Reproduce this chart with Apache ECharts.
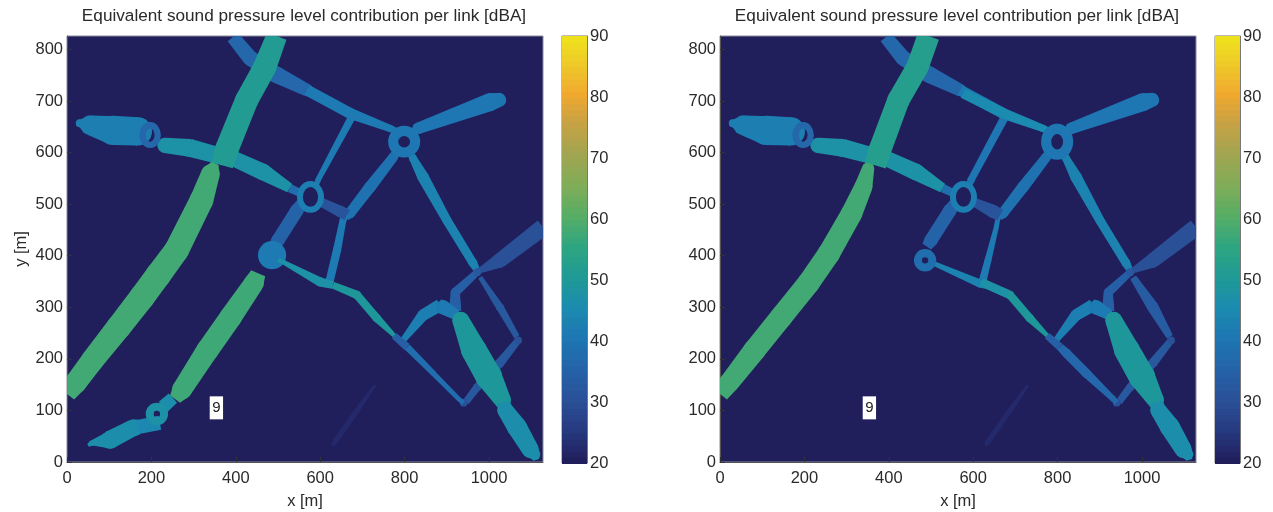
<!DOCTYPE html>
<html><head><meta charset="utf-8">
<style>html,body{margin:0;padding:0;background:#fff}#c{width:1273px;height:512px;filter:blur(0.45px)}</style>
<script src="https://cdn.jsdelivr.net/npm/echarts@6/dist/echarts.min.js"></script>
</head><body><div id="c"></div>
<script>
const titleText = 'Equivalent sound pressure level contribution per link [dBA]';
const xTicks = [0, 200, 400, 600, 800, 1000];
const yTicks = [0, 100, 200, 300, 400, 500, 600, 700, 800];
const barTicks = [20, 30, 40, 50, 60, 70, 80, 90];
const colormap = ['#211e5c','#263a80','#2a5098','#2563a8','#1e76b2','#1b8bb0','#1f9a96','#2ea581','#55ad66','#7fad58','#a0a552','#c4a245','#f0a82f','#eec928','#efe61c'];
const barLevels = [20,21,22,23,24,25,26,27,28,29,30,31,32,33,34,35,36,37,38,39,40,41,42,43,44,45,46,47,48,49,50,51,52,53,54,55,56,57,58,59,60,61,62,63,64,65,66,67,68,69,70,71,72,73,74,75,76,77,78,79,80,81,82,83,84,85,86,87,88,89];
const labelNine = [[354, 105, '9']];
const widthScale = 1.1;
const widthPad = 3;

// Each road: [level dBA, [x m, y m, road width m], ...]
const sharedRoads = [
  [22, [730,149,4],[683,95,9],[635,39,9],[628,32,2]],
  [42, [22,657,6],[30,657,14],[55,653,40],[109,643,60],[168,641,58],[178,640,50]],
  [47, [222,615,20],[232,614,30],[291,609,36],[355,595,33],[375,590,30]],
  [47, [380,593,28],[393,589,30],[465,562,33],[528,531,18]],
  [38, [528,531,16],[556,520,14]],
  [36, [393,824,26],[434,783,30],[498,750,33],[569,721,24],[576,714,12]],
  [41, [569,721,21],[671,676,21],[765,647,13],[785,640,10]],
  [40, [820,640,8],[832,647,22],[1003,698,36],[1024,702,28],[1034,702,12]],
  [39, [780,600,14],[773,591,18],[718,533,22],[671,483,20],[660,476,16]],
  [35, [556,502,20],[545,488,26],[500,430,26],[490,418,20]],
  [43, [812,600,10],[820,589,14],[844,552,22],[900,469,17],[962,386,16],[970,374,12]],
  [30, [975,370,8],[1026,391,29],[1128,455,34]],
  [34, [972,368,12],[920,329,17],[920,304,22],[922,292,20]],
  [42, [790,232,4],[796,236,10],[844,285,22],[884,304,24]],
  [41, [880,304,24],[891,300,28],[924,285,20]],
  [49, [630,343,12],[687,324,15],[734,279,15],[782,240,5]],
  [32, [945,116,12],[972,145,14],[1026,192,17],[1069,236,12]],
  [34, [775,245,12],[806,223,14]],
  [30, [940,115,14]],
  [30, [1069,236,14]],
  [32, [972,368,14]],
  [49, [925,285,16],[933,275,34],[964,217,52],[1000,165,54],[1032,120,34],[1034,114,22]],
  [46, [1034,116,24],[1039,100,32],[1066,68,40],[1098,24,34],[1108,15,22],[1112,4,10]]
];
const leftRoads = [
  [57.5, [0,132,36],[21,154,44],[60,197,46],[122,261,50],[178,320,52],[216,362,52],[260,411,50],[319,508,48],[340,559,38],[351,579,14]],
  [51, [368,575,44],[378,605,48],[426,702,47],[469,766,47],[497,826,42]],
  [41, [660,480,12],[654,469,12],[640,411,15],[623,353,15],[620,345,14]],
  [41, [675,669,14],[595,547,9],[590,535,8]],
  [31, [600,505,14],[607,502,17],[647,486,22],[664,479,22]],
  [41, [486,401,58]],
  [47, [500,392,7],[512,388,7],[600,349,17],[630,343,14]],
  [57, [453,366,30],[443,347,40],[388,281,45],[333,217,45],[272,140,40],[256,122,24]],
  [46, [228,107,26],[251,124,24]],
  [46, [50,32,4],[59,37,9],[102,43,36],[156,66,34],[170,68,30]],
  [44, [168,68,28],[220,76,28]],
  [38, [806,223,12],[868,172,9],[931,120,7],[940,115,7]],
  [32, [979,358,7],[1026,300,14],[1066,243,10]]
];
const rightRoads = [
  [57.5, [0,132,36],[22,154,40],[82,217,45],[146,282,45],[210,347,45],[258,404,45],[312,482,43],[340,534,36],[351,569,24],[355,581,8]],
  [52, [368,575,44],[379,605,46],[423,702,45],[468,766,45],[494,826,45]],
  [41, [660,480,8],[655,456,8],[635,391,12],[623,353,14]],
  [40, [675,669,15],[595,547,13],[590,535,10]],
  [31, [600,505,14],[607,502,17],[647,486,26],[664,479,24]],
  [43, [506,385,7],[616,346,15],[630,343,14]],
  [47, [619,349,15],[682,326,15]],
  [36, [806,223,14],[821,211,17],[868,172,17],[931,123,10],[940,115,8]],
  [33, [979,358,12],[1026,300,22],[1066,243,12]],
  [45, [576,715,19],[671,676,19],[765,647,12],[785,640,10]]
];
// Each ring: [level dBA, x m, y m, x radius m, y radius m, ring width m]
const sharedRings = [
  [36, 197, 634, 18, 19, 15],
  [42, 577, 514, 25, 25, 14]
];
const leftRings = [[40, 799, 621, 26, 21, 24], [47, 213, 93, 17, 14, 19]];
const rightRings = [[40, 799, 621, 26, 25, 24], [38, 486, 391, 17, 14, 19]];

const leftPanelRoads = sharedRoads.concat(leftRoads);
const rightPanelRoads = sharedRoads.concat(rightRoads);
const leftPanelRings = sharedRings.concat(leftRings);
const rightPanelRings = sharedRings.concat(rightRings);

const textColor = '#2a2a2a';
const fontFamily = '"Liberation Sans", Arial, sans-serif';
const tickFont = { color: textColor, fontFamily, fontSize: 16.5 };

function clipOf(params) {
  const c = params.coordSys;
  return { type: 'rect', shape: { x: c.x, y: c.y, width: c.width, height: c.height } };
}
function spanX(api, v) { return Math.abs(api.coord([v, 0])[0] - api.coord([0, 0])[0]); }
function spanY(api, v) { return Math.abs(api.coord([0, v])[1] - api.coord([0, 0])[1]); }
function roadRenderer(roads) {
  return function (params, api) {
    const road = roads[api.value(1)];
    const color = api.visual('color');
    const pts = road.slice(1).map(p => {
      const xy = api.coord([p[0], p[1]]);
      return { x: xy[0], y: xy[1], r: spanX(api, p[2] * widthScale + widthPad) / 2 };
    });
    const children = [];
    pts.forEach((p, i) => {
      if (pts.length === 1 || (i > 0 && i < pts.length - 1)) {
        children.push({ type: 'circle', shape: { cx: p.x, cy: p.y, r: p.r }, style: { fill: color } });
      }
    });
    for (let i = 0; i + 1 < pts.length; i++) {
      const a = pts[i], b = pts[i + 1];
      const dx = b.x - a.x, dy = b.y - a.y, l = Math.hypot(dx, dy) || 1;
      const nx = -dy / l, ny = dx / l;
      children.push({ type: 'polygon', shape: { points: [
        [a.x + nx * a.r, a.y + ny * a.r], [b.x + nx * b.r, b.y + ny * b.r],
        [b.x - nx * b.r, b.y - ny * b.r], [a.x - nx * a.r, a.y - ny * a.r]
      ] }, style: { fill: color } });
    }
    return { type: 'group', clipPath: clipOf(params), children };
  };
}
function ringRenderer(rings) {
  return function (params, api) {
    const r = rings[api.value(1)];
    const c = api.coord([r[1], r[2]]);
    return {
      type: 'ellipse',
      shape: { cx: c[0], cy: c[1], rx: spanX(api, r[3]), ry: spanY(api, r[4]) },
      style: { fill: 'none', stroke: api.visual('color'), lineWidth: spanX(api, r[5]) }
    };
  };
}
function barRenderer(params, api) {
  const p = api.coord([0, api.value(0) + 1]);
  const q = api.coord([1, api.value(0)]);
  return { type: 'rect', shape: { x: p[0], y: p[1], width: q[0] - p[0], height: q[1] - p[1] + 1 }, style: { fill: api.visual('color') } };
}

const panels = [
  { plotLeft: 67, barLeft: 562, roads: leftPanelRoads, rings: leftPanelRings, yName: 'y [m]' },
  { plotLeft: 720, barLeft: 1215, roads: rightPanelRoads, rings: rightPanelRings, yName: '' }
];
const grid = [], xAxis = [], yAxis = [], series = [], customIdx = [], title = [];
panels.forEach((p) => {
  const plot = grid.length;
  grid.push({ left: p.plotLeft, top: 36, width: 476, height: 426, outerBoundsMode: 'none', show: true, backgroundColor: colormap[0], borderColor: '#8a8a9a', borderWidth: 1 });
  xAxis.push({
    gridIndex: plot, type: 'value', min: 0, max: 1128, position: 'bottom',
    name: 'x [m]', nameLocation: 'middle', nameGap: 31, nameTextStyle: tickFont,
    splitLine: { show: false }, axisLine: { show: true, onZero: false, lineStyle: { color: '#555' } },
    axisTick: { inside: true, length: 5, customValues: xTicks, lineStyle: { color: '#333' } },
    axisLabel: { ...tickFont, margin: 8, customValues: xTicks, formatter: v => String(v) }
  });
  yAxis.push({
    gridIndex: plot, type: 'value', min: 0, max: 826, position: 'left',
    name: p.yName, nameLocation: 'middle', nameGap: 37, nameTextStyle: tickFont,
    splitLine: { show: false }, axisLine: { show: true, onZero: false, lineStyle: { color: '#555' } },
    axisTick: { inside: true, length: 5, customValues: yTicks, lineStyle: { color: '#333' } },
    axisLabel: { ...tickFont, margin: 4, customValues: yTicks, formatter: v => String(v) }
  });
  const bar = grid.length;
  grid.push({ left: p.barLeft, top: 36, width: 25, height: 427, outerBoundsMode: 'none', show: true, borderColor: '#777', borderWidth: 1 });
  xAxis.push({ gridIndex: bar, type: 'value', min: 0, max: 1, show: false });
  yAxis.push({
    gridIndex: bar, type: 'value', min: 20, max: 90, position: 'right',
    splitLine: { show: false }, axisLine: { show: true, onZero: false, lineStyle: { color: '#777' } },
    axisTick: { inside: true, length: 4, customValues: barTicks, lineStyle: { color: '#333' } },
    axisLabel: { ...tickFont, margin: 3, customValues: barTicks }
  });
  title.push({
    text: titleText, left: p.plotLeft + 232, top: 3, textAlign: 'center',
    textStyle: { color: textColor, fontFamily, fontSize: 17.2, fontWeight: 'normal' }
  });
  customIdx.push(series.length);
  series.push({ type: 'custom', xAxisIndex: plot, yAxisIndex: plot, renderItem: roadRenderer(p.roads), data: p.roads.map((r, i) => [r[0], i]), silent: true, animation: false });
  customIdx.push(series.length);
  series.push({ type: 'custom', xAxisIndex: plot, yAxisIndex: plot, renderItem: ringRenderer(p.rings), data: p.rings.map((r, i) => [r[0], i]), silent: true, animation: false });
  customIdx.push(series.length);
  series.push({ type: 'custom', xAxisIndex: bar, yAxisIndex: bar, renderItem: barRenderer, data: barLevels.map(v => [v, 0]), silent: true, animation: false, z: 1 });
  series.push({
    type: 'scatter', xAxisIndex: plot, yAxisIndex: plot, symbolSize: 0, silent: true, animation: false,
    itemStyle: { opacity: 1 },
    data: labelNine.map(d => [d[0], d[1], d[2]]),
    label: { show: true, position: 'inside', opacity: 1, formatter: o => o.value[2], color: '#222', fontFamily, fontSize: 15, backgroundColor: '#fff', padding: [5, 2.5, 3, 2.5] }
  });
});
const chart = echarts.init(document.getElementById('c'), null, { renderer: 'canvas' });
chart.setOption({
  backgroundColor: '#fff', animation: false, title, grid, xAxis, yAxis, series,
  visualMap: { type: 'continuous', show: false, min: 20, max: 90, dimension: 0, seriesIndex: customIdx, inRange: { color: colormap } }
});
</script></body></html>
